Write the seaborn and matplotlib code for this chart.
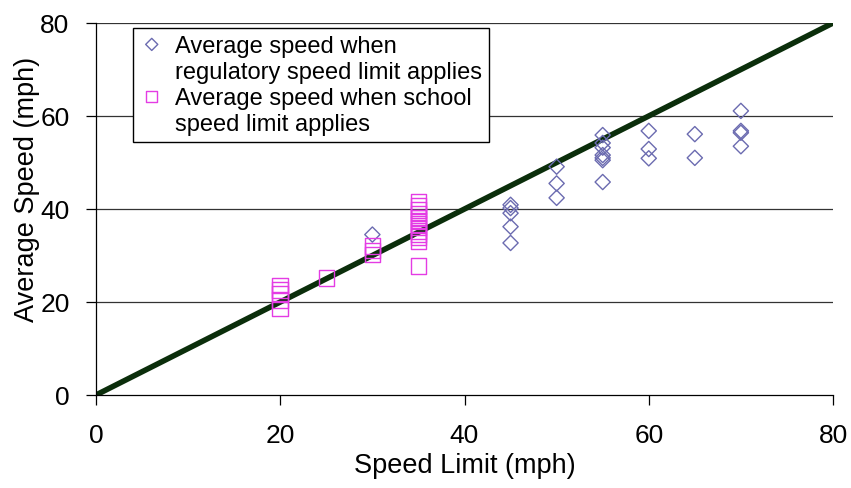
import pandas as pd
import numpy as np
import matplotlib
matplotlib.use('Agg')
import matplotlib.pyplot as plt
from matplotlib.legend_handler import HandlerPathCollection
import seaborn as sns

sns.set_style('white')
plt.rcParams['font.family'] = ['Liberation Sans', 'DejaVu Sans']
plt.rcParams['text.color'] = 'black'
plt.rcParams['axes.labelcolor'] = 'black'

# regulatory speed limit sites
reg_limit = [30, 45, 45, 45, 45, 45, 50, 50, 50,
             55, 55, 55, 55, 55, 55, 55,
             60, 60, 60, 65, 65, 70, 70, 70, 70]
reg_speed = [34.5, 40.9, 40.2, 39.1, 36.2, 32.7, 49.1, 45.5, 42.4,
             55.9, 54.2, 53.2, 51.6, 51.0, 50.5, 45.8,
             56.8, 52.9, 50.9, 56.1, 51.0, 61.1, 56.8, 56.4, 53.5]

# school speed limit sites
sch_limit = [20, 20, 20, 20, 20, 25, 30, 30, 30,
             35, 35, 35, 35, 35, 35, 35, 35, 35, 35, 35, 35, 35]
sch_speed = [23.5, 22.6, 21.7, 20.4, 18.6, 25.2, 32.0, 31.1, 30.2,
             41.5, 40.6, 39.8, 39.0, 38.2, 37.5, 36.8, 36.0, 35.3,
             34.6, 34.0, 33.1, 27.7]

line_x = [0, 80]
line_y = [0, 80]

lab_reg = 'Average speed when\nregulatory speed limit applies'
lab_sch = 'Average speed when school\nspeed limit applies'
REG_COLOR = '#6b6bb0'
SCH_COLOR = '#e43ce4'

df = pd.DataFrame({
    'limit': reg_limit + sch_limit,
    'speed': reg_speed + sch_speed,
    'group': [lab_reg] * len(reg_limit) + [lab_sch] * len(sch_limit),
})

fig = plt.figure(figsize=(8.51, 4.89), dpi=100, facecolor='white')
ax = fig.add_axes([96 / 851, 1 - 396 / 489, (833 - 96) / 851, (396 - 24) / 489])

for y in [20, 40, 60, 80]:
    ax.axhline(y, color='#333333', lw=0.9, zorder=0)

sns.lineplot(x=line_x, y=line_y, ax=ax, color='#0b2e0b', lw=4, zorder=1,
             legend=False)

sns.scatterplot(data=df[df['group'] == lab_reg], x='limit', y='speed',
                marker='D', s=60, facecolor='none', edgecolor=REG_COLOR,
                linewidth=1.0, ax=ax, zorder=3, legend=False)
sns.scatterplot(data=df[df['group'] == lab_sch], x='limit', y='speed',
                marker='s', s=125, facecolor='none', edgecolor=SCH_COLOR,
                linewidth=1.0, ax=ax, zorder=3, legend=False)

# legend, markers level with the first text line
h1 = ax.scatter([], [], marker='D', s=38, facecolor='none', edgecolor=REG_COLOR, lw=1)
h2 = ax.scatter([], [], marker='s', s=65, facecolor='none', edgecolor=SCH_COLOR, lw=1)
hm = {h1: HandlerPathCollection(yoffsets=[1.4]),
      h2: HandlerPathCollection(yoffsets=[1.4])}
leg = ax.legend([h1, h2], [lab_reg, lab_sch], loc='upper left',
                bbox_to_anchor=(0.050, 0.987), fontsize=17, frameon=True,
                fancybox=False, framealpha=1, edgecolor='black',
                handletextpad=0.5, borderpad=0.3, labelspacing=0.15,
                handlelength=1.0, borderaxespad=0, handler_map=hm)
leg.get_frame().set_linewidth(1.0)
for t in leg.get_texts():
    t.set_linespacing(1.25)
    t.set_color('black')

ax.set_xlim(0, 80)
ax.set_ylim(0, 80)
ax.set_xticks([0, 20, 40, 60, 80])
ax.set_yticks([0, 20, 40, 60, 80])
ax.tick_params(axis='both', labelsize=19, colors='black', direction='out',
               length=7, width=0.9)
ax.tick_params(axis='x', pad=13, bottom=True)
ax.tick_params(axis='y', pad=12, left=True)
ax.set_xlabel('Speed Limit (mph)', fontsize=19.5)
ax.set_ylabel('Average Speed (mph)', fontsize=19.5)
ax.xaxis.set_label_coords(0.5, -0.153)
ax.yaxis.set_label_coords(-0.076, 0.554)

for side in ['top', 'right']:
    ax.spines[side].set_visible(False)
for side in ['left', 'bottom']:
    ax.spines[side].set_color('black')
    ax.spines[side].set_linewidth(0.9)

fig.savefig('out.png', dpi=100, facecolor='white')
